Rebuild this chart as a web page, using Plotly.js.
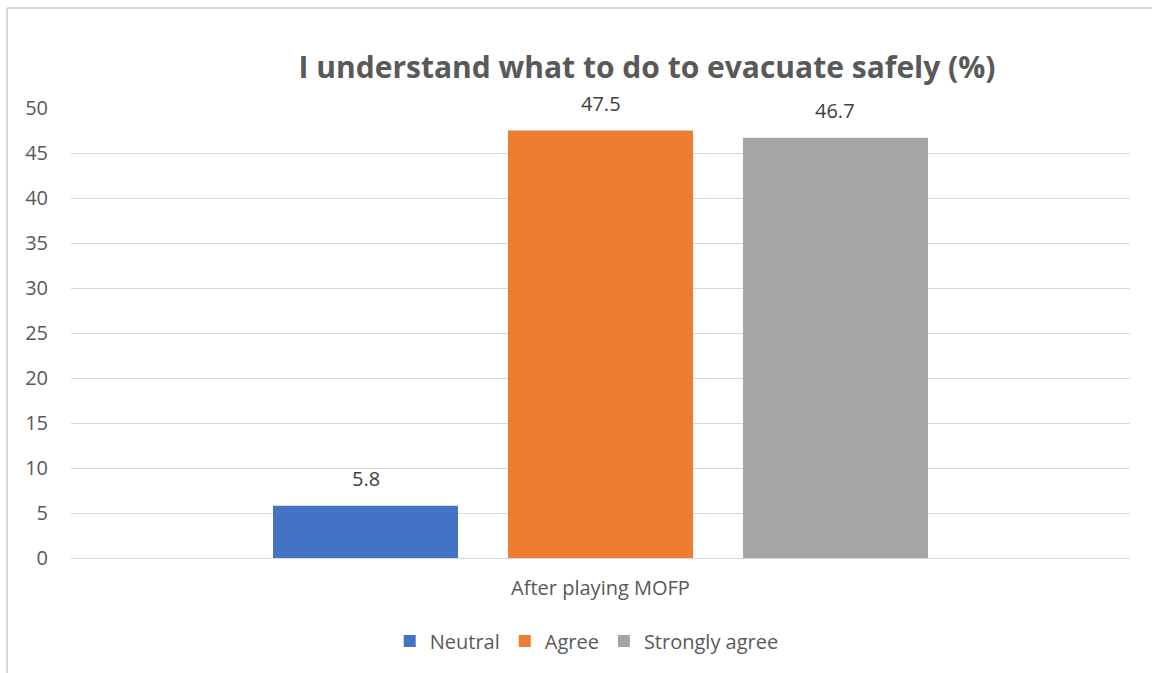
<!DOCTYPE html>
<html>
<head>
<meta charset="utf-8">
<script src="https://cdn.plot.ly/plotly-3.0.1.min.js"></script>
<style>html,body{margin:0;padding:0;background:#fff;}#chart{width:1152px;height:673px;}</style>
</head>
<body>
<div id="chart"></div>
<script>
const category = ["After playing MOFP"];
const seriesNames = ["Neutral", "Agree", "Strongly agree"];
const neutral = [5.8];
const agree = [47.5];
const stronglyAgree = [46.7];
const colors = ["#4472C4", "#ED7D31", "#A5A5A5"];
const yTicks = [0, 5, 10, 15, 20, 25, 30, 35, 40, 45, 50];

const font = "Open Sans, Liberation Sans, sans-serif";
const values = [neutral, agree, stronglyAgree];
const plotW = 1152 - 71 - 22;
const bargap = 0.3343;
const slotPx = plotW * (1 - bargap) / seriesNames.length;

const traces = seriesNames.map((name, i) => ({
  type: "bar",
  name: name,
  x: category,
  y: values[i],
  marker: {color: colors[i]},
  hoverinfo: "none"
}));

const annotations = [];
values.forEach((vals, i) => {
  vals.forEach((v, j) => {
    annotations.push({
      xref: "x", yref: "y",
      x: category[j], y: v,
      text: v.toFixed(1),
      showarrow: false,
      xanchor: "center", yanchor: "bottom",
      xshift: (i - (seriesNames.length - 1) / 2) * slotPx,
      yshift: 12,
      font: {family: font, size: 20, color: "#404040"}
    });
  });
});

const layout = {
  width: 1152, height: 673,
  margin: {l: 71, r: 22, t: 108, b: 115},
  paper_bgcolor: "#ffffff",
  plot_bgcolor: "#ffffff",
  font: {family: font, color: "#595959", size: 20},
  title: {
    text: "<b>I understand what to do to evacuate safely (%)</b>",
    font: {family: font, size: 30, color: "#595959"},
    x: 647 / 1152, xanchor: "center",
    y: 1 - 67 / 673, yanchor: "middle"
  },
  barmode: "group",
  bargap: bargap,
  bargroupgap: 0.2128,
  showlegend: true,
  legend: {
    orientation: "h",
    x: 0.487, xanchor: "center",
    y: -(641 - 558) / 450, yanchor: "middle",
    font: {family: font, size: 20, color: "#595959"},
    itemwidth: 30,
    traceorder: "normal"
  },
  xaxis: {
    type: "category",
    showgrid: false,
    showline: false,
    zeroline: false,
    ticks: "",
    ticklabelstandoff: 16,
    tickfont: {family: font, size: 20, color: "#595959"}
  },
  yaxis: {
    range: [0, 50],
    tickvals: yTicks,
    ticktext: yTicks.map(String),
    showgrid: true,
    gridcolor: "#d9d9d9",
    gridwidth: 1,
    zeroline: true,
    zerolinecolor: "#d9d9d9",
    zerolinewidth: 1,
    showline: false,
    ticks: "",
    ticklabelstandoff: 22,
    tickfont: {family: font, size: 20, color: "#595959"}
  },
  annotations: annotations,
  shapes: [
    {type: "line", xref: "paper", yref: "paper", x0: -64 / 1059, x1: -64 / 1059, y0: 550 / 450, y1: -2,
     line: {color: "#d9d9d9", width: 2}},
    {type: "line", xref: "paper", yref: "paper", x0: -64 / 1059, x1: 2, y0: 550 / 450, y1: 550 / 450,
     line: {color: "#d9d9d9", width: 2}}
  ]
};

Plotly.newPlot("chart", traces, layout, {displayModeBar: false, staticPlot: true});
</script>
</body>
</html>
